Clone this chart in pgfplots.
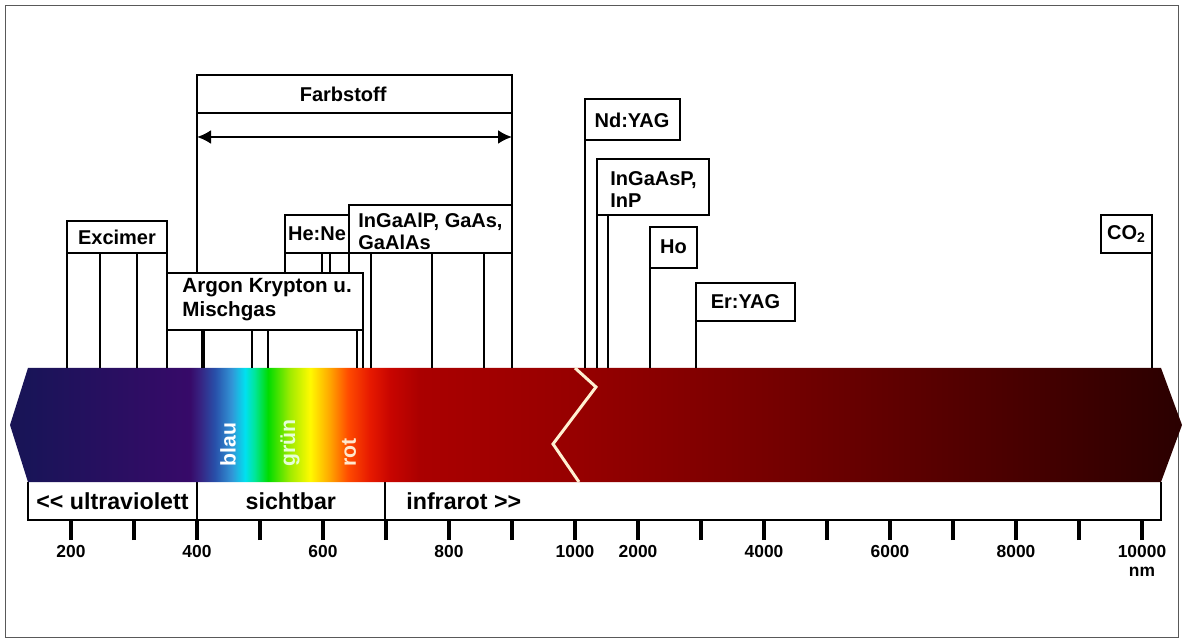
\documentclass[border=0pt]{standalone}
\usepackage{fontspec}
\setmainfont{Liberation Sans}
\usepackage{pgfplots}
\pgfplotsset{compat=1.18}
\usetikzlibrary{arrows.meta}

% spectrum colours, left to right
\definecolor{s01}{RGB}{25,20,85}
\definecolor{s02}{RGB}{25,20,88}
\definecolor{s03}{RGB}{55,10,105}
\definecolor{s04}{RGB}{55,35,130}
\definecolor{s05}{RGB}{40,80,170}
\definecolor{s06}{RGB}{50,150,215}
\definecolor{s07}{RGB}{0,225,240}
\definecolor{s08}{RGB}{0,230,150}
\definecolor{s09}{RGB}{0,220,0}
\definecolor{s10}{RGB}{160,235,0}
\definecolor{s11}{RGB}{255,250,0}
\definecolor{s12}{RGB}{255,165,0}
\definecolor{s13}{RGB}{255,75,0}
\definecolor{s14}{RGB}{230,25,0}
\definecolor{s15}{RGB}{200,5,0}
\definecolor{s16}{RGB}{170,0,0}
\definecolor{s17}{RGB}{150,0,0}
\definecolor{s18}{RGB}{118,0,0}
\definecolor{s19}{RGB}{85,0,0}
\definecolor{s20}{RGB}{42,0,0}
\definecolor{zig}{RGB}{255,240,210}
\definecolor{gruen}{RGB}{230,255,215}
\definecolor{rotc}{RGB}{255,232,205}

\pgfdeclarehorizontalshading{spec}{100bp}{%
  color(0bp)=(s01); color(25bp)=(s01); color(25.77bp)=(s02);
  color(32.68bp)=(s03); color(33.11bp)=(s04); color(33.75bp)=(s05);
  color(34.47bp)=(s06); color(35.03bp)=(s07); color(35.45bp)=(s08);
  color(36.01bp)=(s09); color(36.95bp)=(s10); color(37.80bp)=(s11);
  color(38.65bp)=(s12); color(39.42bp)=(s13); color(40.36bp)=(s14);
  color(41.21bp)=(s15); color(42.49bp)=(s16); color(49.32bp)=(s17);
  color(57.42bp)=(s18); color(65.10bp)=(s19); color(75bp)=(s20);
  color(100bp)=(s20)}

\pgfplotsset{
  ln/.style={black, line width=1.1pt, no marks},
  bx/.style={draw=black, fill=white, line width=1.25pt, no marks},
}
\tikzset{
  lab/.style={font=\bfseries\fontsize{10}{11}\selectfont, inner sep=0pt},
  band/.style={font=\bfseries\fontsize{11.6}{13}\selectfont, inner sep=0pt},
  vert/.style={font=\bfseries\fontsize{10.6}{12}\selectfont, inner sep=0pt, rotate=90, anchor=west},
}

\begin{document}
\begin{tikzpicture}
\begin{axis}[
  scale only axis, width=591pt, height=260pt,
  xmin=0.873, xmax=19.635, ymin=0, ymax=520,
  clip=false, unbounded coords=jump,
  axis x line*=bottom, axis y line=none,
  axis line style={draw=none},
  xtick={2,...,19},
  xticklabels={200,,400,,600,,800,,1000,2000,,4000,,6000,,8000,,{10000\\nm}},
  tick align=outside, major tick length=10pt,
  xtick style={line width=1.7pt, black},
  xticklabel style={font=\bfseries\fontsize{8.7}{9.8}\selectfont, align=center, yshift=1pt},
]
% picture extent and frame
\addplot[draw=none, no marks] coordinates {(0.873,-122) (19.635,520)};
\addplot[gray!70!black, line width=0.5pt, no marks] coordinates {(0.968,-117)(19.587,-117)(19.587,514)(0.968,514)} -- cycle;

% row of ranges under the band
\addplot[black, line width=0.6pt, no marks] coordinates {(1.317,38)(1.317,0)(19.302,0)(19.302,38)};
\addplot[black, line width=0.6pt, no marks] coordinates {(4,38)(4,0) (nan,nan) (6.984,38)(6.984,0)};

% spectrum band with break
\addplot[draw=none, shade, shading=spec, no marks] coordinates {(1.032,95)(1.317,152)(19.302,152)(19.635,95)(19.302,38)(1.317,38)} -- cycle;
\addplot[zig, line width=1.5pt, no marks] coordinates {(10.0,152)(10.333,133)(9.651,76)(10.063,38)};

% laser lines
\addplot[ln] coordinates {(1.937,267)(1.937,152) (nan,nan) (2.460,267)(2.460,152) (nan,nan) (3.048,267)(3.048,152) (nan,nan) (3.524,267)(3.524,152)};
\addplot[ln] coordinates {(5.397,267)(5.397,247) (nan,nan) (5.984,267)(5.984,247) (nan,nan) (6.111,267)(6.111,247) (nan,nan) (6.413,267)(6.413,247)};
\addplot[ln] coordinates {(6.762,267)(6.762,152) (nan,nan) (7.730,267)(7.730,152) (nan,nan) (8.556,267)(8.556,152) (nan,nan) (9.0,267)(9.0,152)};
\addplot[ln] coordinates {(4.079,190)(4.079,152) (nan,nan) (4.111,190)(4.111,152) (nan,nan) (4.873,190)(4.873,152) (nan,nan) (5.127,190)(5.127,152) (nan,nan) (6.540,190)(6.540,152) (nan,nan) (6.635,190)(6.635,152)};
\addplot[ln] coordinates {(10.159,380)(10.159,152) (nan,nan) (10.349,305)(10.349,152) (nan,nan) (10.524,305)(10.524,152) (nan,nan) (11.190,252)(11.190,152) (nan,nan) (11.921,199)(11.921,152) (nan,nan) (19.159,267)(19.159,152)};

% Farbstoff
\addplot[ln] coordinates {(4,407)(4,247) (nan,nan) (9,407)(9,315)};
\addplot[bx] coordinates {(4,407)(9,407)(9,445)(4,445)} -- cycle;
\addplot[black, line width=1.2pt, no marks, <->, >={Latex[length=7pt,width=7pt]}] coordinates {(4,383)(9,383)};

% boxes
\addplot[bx] coordinates {(1.937,267)(3.524,267)(3.524,299)(1.937,299)} -- cycle;
\addplot[bx] coordinates {(5.397,267)(6.413,267)(6.413,305)(5.397,305)} -- cycle;
\addplot[bx] coordinates {(6.413,267)(9.0,267)(9.0,315)(6.413,315)} -- cycle;
\addplot[bx] coordinates {(3.524,190)(6.635,190)(6.635,247)(3.524,247)} -- cycle;
\addplot[bx] coordinates {(10.159,380)(11.667,380)(11.667,421)(10.159,421)} -- cycle;
\addplot[bx] coordinates {(10.349,305)(12.127,305)(12.127,361)(10.349,361)} -- cycle;
\addplot[bx] coordinates {(11.190,252)(11.937,252)(11.937,293)(11.190,293)} -- cycle;
\addplot[bx] coordinates {(11.921,199)(13.492,199)(13.492,237)(11.921,237)} -- cycle;
\addplot[bx] coordinates {(18.349,267)(19.159,267)(19.159,305)(18.349,305)} -- cycle;

% texts
\node[lab] at (axis cs:2.73,283) {Excimer};
\node[lab] at (axis cs:6.32,426) {Farbstoff};
\node[lab] at (axis cs:5.905,286) {He:Ne};
\node[lab, anchor=west, align=left] at (axis cs:6.556,289) {InGaAlP, GaAs,\\GaAlAs};
\node[lab, font=\bfseries\fontsize{10.3}{12}\selectfont, anchor=west, align=left] at (axis cs:3.762,220) {Argon Krypton u.\\Mischgas};
\node[lab] at (axis cs:10.905,400) {Nd:YAG};
\node[lab, anchor=west, align=left] at (axis cs:10.556,330) {InGaAsP,\\InP};
\node[lab] at (axis cs:11.563,273) {Ho};
\node[lab] at (axis cs:12.706,218) {Er:YAG};
\node[lab] at (axis cs:18.754,286) {CO\textsubscript{2}};

\node[band] at (axis cs:2.659,19) {<\kern0pt< ultraviolett};
\node[band] at (axis cs:5.49,19) {sichtbar};
\node[band, anchor=west] at (axis cs:7.317,19) {infrarot >\kern0pt>};

\node[vert, text=white] at (axis cs:4.492,53) {blau};
\node[vert, text=gruen] at (axis cs:5.476,53) {grün};
\node[vert, text=rotc] at (axis cs:6.413,53) {rot};
\end{axis}
\end{tikzpicture}
\end{document}
